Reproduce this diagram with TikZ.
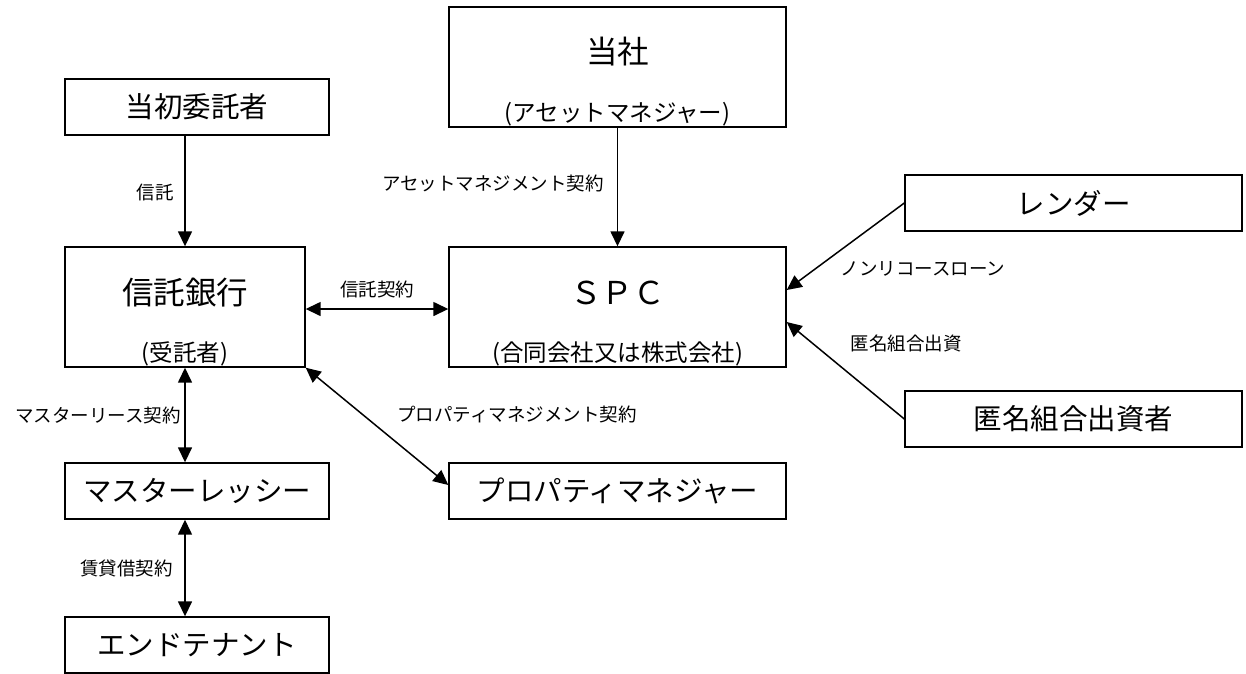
\documentclass[tikz,border=0pt]{standalone}
\usepackage{fontspec}
\setmainfont{Noto Sans CJK JP}
\usetikzlibrary{arrows.meta,calc}
\tikzset{
  box/.style={draw=black, line width=1.4pt, inner sep=0pt, fill=white},
  bigtxt/.style={inner sep=0pt, font=\fontsize{31.5}{31.5}\selectfont},
  midtxt/.style={inner sep=0pt, font=\fontsize{28.5}{28.5}\selectfont},
  subtxt/.style={inner sep=0pt, font=\fontsize{23.5}{23.5}\selectfont},
  lbl/.style={inner sep=0pt, font=\fontsize{18.5}{18.5}\selectfont},
  conn/.style={line width=1.5pt, -{Triangle[length=15pt,width=14pt]}},
  bconn/.style={line width=1.5pt, {Triangle[length=15pt,width=14pt]}-{Triangle[length=15pt,width=14pt]}}
}
\begin{document}
\begin{tikzpicture}[x=1pt,y=-1pt]
\useasboundingbox (0,0) rectangle (1246,673);
\fill[white] (0,0) rectangle (1246,673);
% boxes
\node[box, minimum width=264pt, minimum height=56pt] (orig) at (197,107) {};
\node[midtxt] (origT) at (orig.center) {当初委託者};
\node[box, minimum width=240pt, minimum height=120pt] (bank) at (185,307) {};
\node[bigtxt] (bankT) at (185,293) {信託銀行};
\node[subtxt] (bankS) at (185,354) {(受託者)};
\node[box, minimum width=337pt, minimum height=120pt] (am) at (617.5,67) {};
\node[bigtxt] (amT) at (617.5,52) {当社};
\node[subtxt] (amS) at (617.5,114) {(アセットマネジャー)};
\node[box, minimum width=337pt, minimum height=120pt] (spc) at (617.5,307) {};
\node[bigtxt] (spcT) at (617.5,293) {ＳＰＣ};
\node[subtxt] (spcS) at (617.5,354) {(合同会社又は株式会社)};
\node[box, minimum width=337pt, minimum height=56pt] (lender) at (1073.5,203) {};
\node[midtxt] (lenderT) at (1073.5,203) {レンダー};
\node[box, minimum width=337pt, minimum height=56pt] (anon) at (1073.5,419) {};
\node[midtxt] (anonT) at (1073.5,419) {匿名組合出資者};
\node[box, minimum width=264pt, minimum height=56pt] (lessee) at (197,491) {};
\node[midtxt] (lesseeT) at (197,491) {マスターレッシー};
\node[box, minimum width=264pt, minimum height=56pt] (tenant) at (197,645) {};
\node[midtxt] (tenantT) at (197,645) {エンドテナント};
\node[box, minimum width=337pt, minimum height=56pt] (pm) at (617.5,491) {};
\node[midtxt] (pmT) at (617.5,491) {プロパティマネジャー};
% connectors
\draw[conn] (bank.north |- orig.south) -- (bank.north);
\node[lbl] (l1) at (155,192) {信託};
\draw[bconn] (bank.east |- 0,309) -- (spc.west |- 0,309);
\node[lbl] (l2) at (377,289) {信託契約};
\draw[conn] (am.south) -- (spc.north);
\node[lbl, anchor=east] (l3) at (604,183) {アセットマネジメント契約};
\draw[conn] (lender.west) -- ([yshift=17pt]spc.east);
\node[lbl] (l4) at (923,269) {ノンリコースローン};
\draw[conn] (anon.west) -- ([yshift=-15pt]spc.east);
\node[lbl] (l5) at (906,343) {匿名組合出資};
\draw[bconn] (bank.south) -- (bank.south |- lessee.north);
\node[lbl, anchor=east] (l6) at (181,415) {マスターリース契約};
\draw[bconn] (bank.south |- lessee.south) -- (bank.south |- tenant.north);
\node[lbl, anchor=east] (l7) at (173,568) {賃貸借契約};
\draw[bconn] (bank.south east) -- ([yshift=6pt]pm.west);
\node[lbl] (l8) at (517,414) {プロパティマネジメント契約};
\end{tikzpicture}
\end{document}
